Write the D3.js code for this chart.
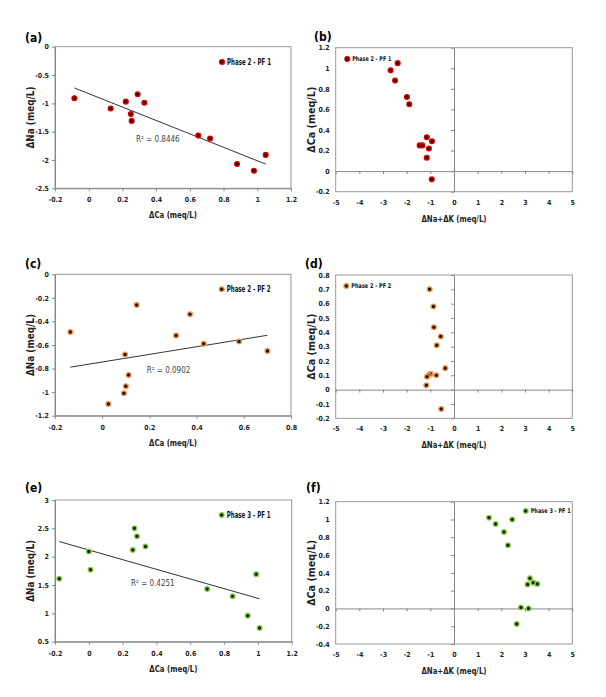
<!DOCTYPE html>
<html><head><meta charset="utf-8">
<script src="https://cdn.jsdelivr.net/npm/d3@7"></script>
<style>
body{margin:0;background:#fff;}
svg{display:block;}
text{font-family:"Liberation Sans Narrow","DejaVu Sans Condensed","Arial Narrow",sans-serif;}
</style></head>
<body>
<script>
// ---- data ----
const aCa  = [-0.085,0.13,0.22,0.25,0.255,0.29,0.33,0.65,0.72,0.88,0.98,1.05];
const aNa  = [-0.91,-1.09,-0.97,-1.19,-1.31,-0.84,-0.99,-1.57,-1.62,-2.07,-2.19,-1.91];
const bNaK = [-2.38,-2.68,-2.49,-1.99,-1.89,-1.15,-0.93,-1.45,-1.34,-1.06,-1.15,-0.94];
const bCa  = [1.05,0.98,0.88,0.72,0.65,0.33,0.29,0.25,0.25,0.22,0.13,-0.08];
const cCa  = [-0.135,0.146,0.372,0.313,0.43,0.58,0.70,0.097,0.112,0.10,0.092,0.026];
const cNa  = [-0.49,-0.26,-0.34,-0.52,-0.59,-0.57,-0.65,-0.68,-0.855,-0.95,-1.01,-1.10];
const dNaK = [-1.03,-0.87,-0.85,-0.56,-0.73,-0.37,-0.99,-1.07,-1.14,-0.75,-1.17,-0.54];
const dCa  = [0.70,0.58,0.435,0.37,0.31,0.15,0.11,0.10,0.09,0.10,0.03,-0.135];
const eCa  = [-0.175,0.0,0.01,0.26,0.27,0.285,0.335,0.70,0.85,0.94,0.99,1.01];
const eNa  = [1.61,2.09,1.77,2.12,2.50,2.36,2.18,1.43,1.30,0.96,1.69,0.74];
const fNaK = [1.48,1.76,2.46,2.11,2.28,3.21,3.11,3.35,3.52,2.83,3.15,2.65];
const fCa  = [1.02,0.95,1.0,0.86,0.71,0.34,0.27,0.29,0.275,0.01,0.0,-0.175];

const seriesNames = ["Phase 2 - PF 1","Phase 2 - PF 2","Phase 3 - PF 1"];
const r2Labels = ["R² = 0.8446","R² = 0.0902","R² = 0.4251"];
const panelLabels = ["(a)","(b)","(c)","(d)","(e)","(f)"];

const ticksCaA = [-0.2,0,0.2,0.4,0.6,0.8,1,1.2];
const ticksNaA = [-2.5,-2,-1.5,-1,-0.5,0];
const ticksCaC = [-0.2,0,0.2,0.4,0.6,0.8];
const ticksNaC = [-1.2,-1,-0.8,-0.6,-0.4,-0.2,0];
const ticksNaE = [0.5,1,1.5,2,2.5,3];
const ticksNaK = [-5,-4,-3,-2,-1,0,1,2,3,4,5];
const ticksCaB = [-0.2,0,0.2,0.4,0.6,0.8,1,1.2];
const ticksCaD = [-0.2,-0.1,0,0.1,0.2,0.3,0.4,0.5,0.6,0.7,0.8];
const ticksCaF = [-0.4,-0.2,0,0.2,0.4,0.6,0.8,1,1.2];

const markerColors = [
  {stroke:"#d80000", fill:"#4a0000"},
  {stroke:"#f39a52", fill:"#2a1200"},
  {stroke:"#8fd14f", fill:"#102a00"}
];

const W=606,H=697;
const svg=d3.select("body").append("svg").attr("width",W).attr("height",H);

const fmt = v => d3.format("~g")(+v.toFixed(2)).replace("−","-");

const panels = [
 {label:0,x0:55,x1:291,y0:46.7,y1:188.3,xd:[-0.2,1.2],yd:[-2.5,0],xt:ticksCaA,yt:ticksNaA,xs:aCa,ys:aNa,
  quad:false,c:0,name:0,xTitle:"ΔCa  (meq/L)",yTitle:"ΔNa  (meq/L)",leg:[222,62],legFs:8,legW:44,r2:0,r2pos:[136,142],lab:[25,42]},
 {label:1,x0:335.7,x1:572.3,y0:47.7,y1:191.7,xd:[-5,5],yd:[-0.2,1.2],xt:ticksNaK,yt:ticksCaB,xs:bNaK,ys:bCa,
  quad:true,c:0,name:0,xTitle:"ΔNa+ΔK  (meq/L)",yTitle:"ΔCa  (meq/L)",leg:[347.3,59],legFs:6.5,legW:39,lab:[314,41]},
 {label:2,x0:55,x1:291,y0:274.3,y1:415.7,xd:[-0.2,0.8],yd:[-1.2,0],xt:ticksCaC,yt:ticksNaC,xs:cCa,ys:cNa,
  quad:false,c:1,name:1,xTitle:"ΔCa  (meq/L)",yTitle:"ΔNa  (meq/L)",leg:[221.7,289.3],legFs:8,legW:44,r2:1,r2pos:[146.7,373],lab:[25,268]},
 {label:3,x0:335.7,x1:572.3,y0:275,y1:418.3,xd:[-5,5],yd:[-0.2,0.8],xt:ticksNaK,yt:ticksCaD,xs:dNaK,ys:dCa,
  quad:true,c:1,name:1,xTitle:"ΔNa+ΔK  (meq/L)",yTitle:"ΔCa  (meq/L)",leg:[346.3,286],legFs:6.5,legW:40,lab:[305,268]},
 {label:4,x0:55,x1:291.7,y0:500,y1:641.7,xd:[-0.2,1.2],yd:[0.5,3],xt:ticksCaA,yt:ticksNaE,xs:eCa,ys:eNa,
  quad:false,c:2,name:2,xTitle:"ΔCa  (meq/L)",yTitle:"ΔNa  (meq/L)",leg:[221.7,515],legFs:8,legW:44,r2:2,r2pos:[131,586],lab:[25,492]},
 {label:5,x0:335.7,x1:572.3,y0:501.7,y1:644,xd:[-5,5],yd:[-0.4,1.2],xt:ticksNaK,yt:ticksCaF,xs:fNaK,ys:fCa,
  quad:true,c:2,name:2,xTitle:"ΔNa+ΔK  (meq/L)",yTitle:"ΔCa  (meq/L)",leg:[525.7,511],legFs:6.5,legW:40,lab:[306,492]}
];

const axisColor="#888";

panels.forEach(p=>{
  const g=svg.append("g");
  const x=d3.scaleLinear().domain(p.xd).range([p.x0,p.x1]);
  const y=d3.scaleLinear().domain(p.yd).range([p.y1,p.y0]);

  g.append("rect").attr("x",p.x0).attr("y",p.y0).attr("width",p.x1-p.x0).attr("height",p.y1-p.y0)
    .attr("fill","none").attr("stroke","#999").attr("stroke-width",1);

  const styleAxis = sel => {
    sel.selectAll("path").attr("stroke",axisColor);
    sel.selectAll("line").attr("stroke",axisColor);
    sel.selectAll("text").attr("fill","#222").attr("font-size",7).attr("font-weight","bold")
      .style("font-family","'Liberation Sans Narrow','DejaVu Sans Condensed',sans-serif");
  };

  if(!p.quad){
    const ya=g.append("g").attr("transform",`translate(${p.x0},0)`)
      .call(d3.axisLeft(y).tickValues(p.yt).tickFormat(fmt).tickSize(3).tickSizeOuter(0).tickPadding(3));
    styleAxis(ya);
    const xa=g.append("g").attr("transform",`translate(0,${p.y1})`)
      .call(d3.axisBottom(x).tickValues(p.xt).tickFormat(fmt).tickSize(3).tickSizeOuter(0).tickPadding(6));
    styleAxis(xa);
  } else {
    const ya=g.append("g").attr("transform",`translate(${x(0)},0)`)
      .call(d3.axisLeft(y).tickValues(p.yt).tickFormat("").tickSize(3).tickSizeOuter(0));
    styleAxis(ya);
    const xa=g.append("g").attr("transform",`translate(0,${y(0)})`)
      .call(d3.axisBottom(x).tickValues(p.xt).tickFormat("").tickSize(3).tickSizeOuter(0));
    styleAxis(xa);
    const yl=g.append("g").attr("transform",`translate(${p.x0},0)`)
      .call(d3.axisLeft(y).tickValues(p.yt).tickFormat(fmt).tickSize(0).tickPadding(6));
    yl.select(".domain").remove();
    styleAxis(yl);
    const xl=g.append("g").attr("transform",`translate(0,${p.y1})`)
      .call(d3.axisBottom(x).tickValues(p.xt).tickFormat(fmt).tickSize(0).tickPadding(8));
    xl.select(".domain").remove();
    styleAxis(xl);
  }

  if(!p.quad){
    const n=p.xs.length, mx=d3.mean(p.xs), my=d3.mean(p.ys);
    let sxy=0,sxx=0;
    for(let i=0;i<n;i++){sxy+=(p.xs[i]-mx)*(p.ys[i]-my);sxx+=(p.xs[i]-mx)**2;}
    const b=sxy/sxx, a=my-b*mx;
    const xmin=d3.min(p.xs), xmax=d3.max(p.xs);
    g.append("line").attr("x1",x(xmin)).attr("y1",y(a+b*xmin)).attr("x2",x(xmax)).attr("y2",y(a+b*xmax))
      .attr("stroke","#333").attr("stroke-width",1);
    g.append("text").attr("x",p.r2pos[0]).attr("y",p.r2pos[1]).text(r2Labels[p.r2])
      .attr("font-size",8).attr("fill","#444");
  }

  const col=markerColors[p.c];
  g.selectAll("circle.pt").data(p.xs.map((v,i)=>[v,p.ys[i]])).enter().append("circle")
    .attr("cx",d=>x(d[0])).attr("cy",d=>y(d[1])).attr("r",2.4)
    .attr("fill",col.fill).attr("stroke",col.stroke).attr("stroke-width",1.3);

  g.append("circle").attr("cx",p.leg[0]).attr("cy",p.leg[1]).attr("r",2.4)
    .attr("fill",col.fill).attr("stroke",col.stroke).attr("stroke-width",1.3);
  g.append("text").attr("x",p.leg[0]+5).attr("y",p.leg[1]).attr("dy","0.35em")
    .attr("textLength",p.legW).attr("lengthAdjust","spacingAndGlyphs")
    .text(seriesNames[p.name]).attr("font-size",p.legFs).attr("font-weight","bold").attr("fill","#111");

  const xtW = p.quad ? 65 : 48, ytW = p.quad ? 66 : 62;
  g.append("text").attr("x",(p.x0+p.x1)/2).attr("y",p.y1+30).attr("text-anchor","middle")
    .attr("textLength",xtW).attr("lengthAdjust","spacingAndGlyphs")
    .text(p.xTitle).attr("font-size",9).attr("font-weight","bold").attr("fill","#222");
  const yc=(p.y0+p.y1)/2, xt=p.x0-21;
  g.append("text").attr("transform",`translate(${xt},${yc}) rotate(-90)`).attr("text-anchor","middle")
    .attr("textLength",ytW).attr("lengthAdjust","spacingAndGlyphs")
    .text(p.yTitle).attr("font-size",10).attr("font-weight","bold").attr("fill","#222");

  g.append("text").attr("x",p.lab[0]).attr("y",p.lab[1]).text(panelLabels[p.label])
    .attr("font-size",12).attr("font-weight","bold").attr("fill","#000");
});
</script>
</body></html>
